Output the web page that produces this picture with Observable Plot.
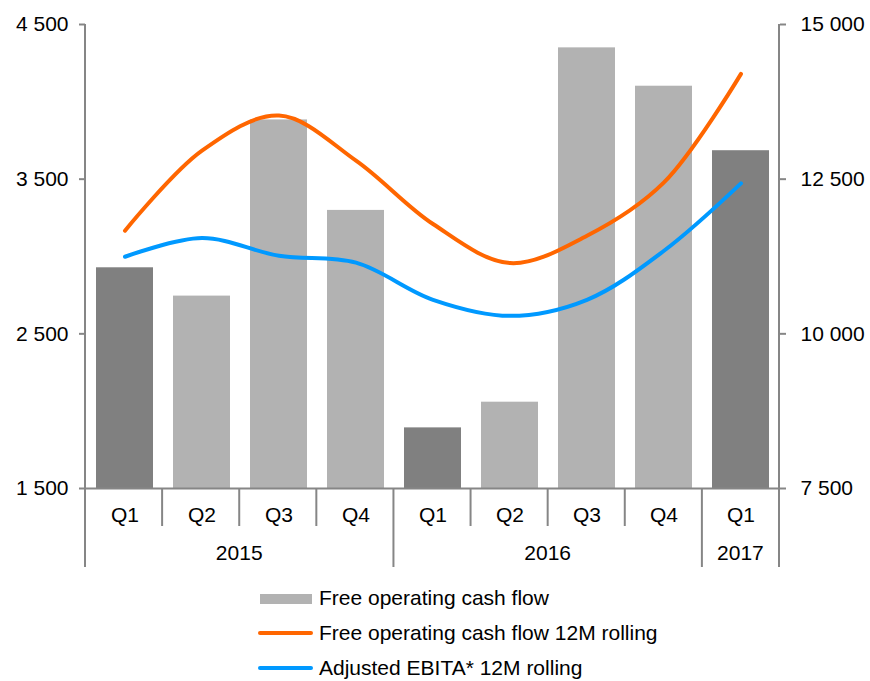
<!DOCTYPE html>
<html><head><meta charset="utf-8">
<script src="https://cdn.jsdelivr.net/npm/d3@7"></script>
<script src="https://cdn.jsdelivr.net/npm/@observablehq/plot@0.6"></script>
<style>
body{margin:0;background:#fff;font-family:"Liberation Sans",Arial,sans-serif;}
#chart svg{display:block;}
#legend{position:relative;height:101px;font-size:21px;color:#000;}
.row{position:absolute;left:0;height:34px;width:870px;}
.sw{position:absolute;}
.lbl{position:absolute;left:319px;top:0;line-height:34px;white-space:nowrap;}
</style></head><body>
<div id="chart"></div>
<div id="legend"></div>
<script>
// ---- data ----
const years    = ["2015","2015","2015","2015","2016","2016","2016","2016","2017"];
const quarters = ["Q1","Q2","Q3","Q4","Q1","Q2","Q3","Q4","Q1"];
const fcf      = [2927, 2744, 3883, 3298, 1892, 2058, 4349, 4101, 3684];          // left axis
const fcf12m   = [11667, 12961, 13528, 12800, 11775, 11144, 11586, 12448, 14202]; // right axis
const ebita12m = [11246, 11548, 11262, 11150, 10550, 10291, 10550, 11343, 12432]; // right axis
const leftTicks  = [1500, 2500, 3500, 4500];
const rightTicks = [7500, 10000, 12500, 15000];
const seriesNames = ["Free operating cash flow", "Free operating cash flow 12M rolling", "Adjusted EBITA* 12M rolling"];
const colors = {barQ1: "#808080", bar: "#b2b2b2", orange: "#ff6600", blue: "#0099ff", axis: "#868686"};

// ---- build table ----
const ids = years.map((y, i) => `${y}-${quarters[i]}-${i}`);
const toLeft = v => leftTicks[0] + (v - rightTicks[0]) * (leftTicks[3] - leftTicks[0]) / (rightTicks[3] - rightTicks[0]);
const rows = ids.map((id, i) => ({id, year: years[i], quarter: quarters[i], fcf: fcf[i], fcf12m: toLeft(fcf12m[i]), ebita12m: toLeft(ebita12m[i])}));
const fmt = v => d3.format(",")(v).replace(/,/g, " ");

const W = 870, H = 580;
const plot = Plot.plot({
  width: W, height: H,
  marginLeft: 85, marginRight: 91, marginTop: 24, marginBottom: 92,
  style: {fontFamily: '"Liberation Sans", Arial, sans-serif', fontSize: "21px", color: "#000", background: "#fff"},
  x: {type: "band", domain: ids, paddingInner: 0.26, paddingOuter: 0.13, axis: null},
  y: {domain: [leftTicks[0], leftTicks[3]], axis: null},
  marks: [
    Plot.barY(rows, {x: "id", y1: leftTicks[0], y2: "fcf", fill: d => d.quarter === "Q1" ? colors.barQ1 : colors.bar}),
    Plot.line(rows, {x: "id", y: "fcf12m", stroke: colors.orange, strokeWidth: 4, curve: "catmull-rom", strokeLinecap: "round"}),
    Plot.line(rows, {x: "id", y: "ebita12m", stroke: colors.blue, strokeWidth: 4, curve: "catmull-rom", strokeLinecap: "round"}),
    Plot.ruleY([leftTicks[0]], {stroke: colors.axis, strokeWidth: 2}),
    Plot.axisY({anchor: "left", ticks: leftTicks, tickFormat: fmt, tickSize: 6, tickPadding: 11, stroke: colors.axis, strokeWidth: 2, fill: "#000", label: null}),
    Plot.axisY({anchor: "right", ticks: leftTicks, tickFormat: d => fmt(rightTicks[leftTicks.indexOf(d)]), tickSize: 6, tickPadding: 15, stroke: colors.axis, strokeWidth: 2, fill: "#000", label: null}),
    Plot.axisX({anchor: "bottom", tickSize: 0, tickPadding: 19, tickFormat: d => quarters[ids.indexOf(d)], fill: "#000", label: null})
  ]
});
document.getElementById("chart").appendChild(plot);

// ---- axis lines, category separators, year labels (positions from Plot's scales) ----
const xs = plot.scale("x"), ys = plot.scale("y");
const [r0, r1] = xs.range;
const n = xs.domain.length;
const step = (r1 - r0) / n;
const yBottom = ys.apply(leftTicks[0]), yTop = ys.apply(leftTicks[3]);
const qRowEnd = yBottom + 38, yRowEnd = yBottom + 79, yLabel = yBottom + 65;
const svg = d3.select(plot);
const g = svg.append("g").attr("stroke", colors.axis).attr("stroke-width", 2);
g.append("line").attr("x1", r0).attr("x2", r0).attr("y1", yTop).attr("y2", yBottom);
g.append("line").attr("x1", r1).attr("x2", r1).attr("y1", yTop).attr("y2", yBottom);
for (let i = 0; i <= n; i++) {
  const isYearEdge = i === 0 || i === n || years[i] !== years[i - 1];
  g.append("line").attr("x1", r0 + i * step).attr("x2", r0 + i * step)
    .attr("y1", yBottom).attr("y2", isYearEdge ? yRowEnd : qRowEnd);
}
const uniqYears = [...new Set(years)];
uniqYears.forEach(y => {
  const first = years.indexOf(y), last = years.lastIndexOf(y);
  const cx = r0 + (first + last + 1) / 2 * step;
  svg.append("text").attr("x", cx).attr("y", yLabel).attr("dy", "0.35em")
    .attr("text-anchor", "middle").attr("fill", "#000").text(y);
});

// ---- legend ----
const legend = document.getElementById("legend");
const swatches = [
  `<div class="sw" style="left:260px;top:13px;width:52px;height:10px;background:${colors.bar}"></div>`,
  `<div class="sw" style="left:258px;top:15px;width:55px;height:4px;border-radius:2px;background:${colors.orange}"></div>`,
  `<div class="sw" style="left:258px;top:15px;width:55px;height:4px;border-radius:2px;background:${colors.blue}"></div>`
];
seriesNames.forEach((name, i) => {
  const r = document.createElement("div");
  r.className = "row";
  r.style.top = (1 + i * 35) + "px";
  r.innerHTML = swatches[i] + `<span class="lbl">${name}</span>`;
  legend.appendChild(r);
});
</script>
</body></html>
